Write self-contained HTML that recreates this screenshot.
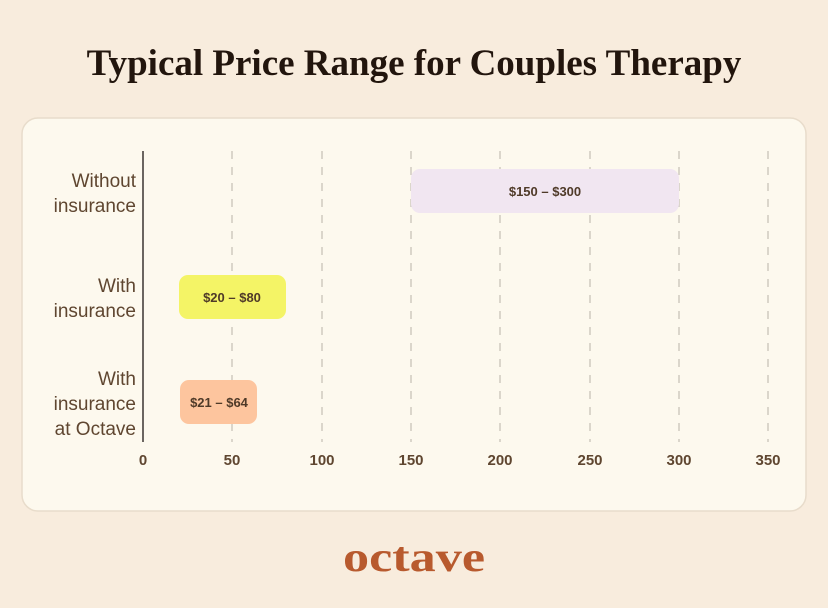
<!DOCTYPE html>
<html><head><style>
body{margin:0;width:828px;height:603px;background:#f8ecdd;overflow:hidden}
</style></head><body>
<svg width="828" height="603" xmlns="http://www.w3.org/2000/svg">
<rect width="828" height="603" fill="#f8ecdd"/>
<text x="414" y="75" text-anchor="middle" font-family="Liberation Serif, serif" font-weight="bold" font-size="37" fill="#22150d">Typical Price Range for Couples Therapy</text>
<rect x="22" y="118" width="784" height="393" rx="16" fill="#fdf9ee" stroke="#e8dccb" stroke-width="1.5"/>
<g stroke="#c9c2b8" stroke-width="1.3" stroke-dasharray="8,8">
<line x1="232" y1="151" x2="232" y2="442"/>
<line x1="322" y1="151" x2="322" y2="442"/>
<line x1="411" y1="151" x2="411" y2="442"/>
<line x1="500" y1="151" x2="500" y2="442"/>
<line x1="590" y1="151" x2="590" y2="442"/>
<line x1="679" y1="151" x2="679" y2="442"/>
<line x1="768" y1="151" x2="768" y2="442"/>
</g>
<line x1="143" y1="151" x2="143" y2="442" stroke="#6b6560" stroke-width="2"/>
<rect x="411" y="169" width="268" height="44" rx="9" fill="#f1e6f1"/>
<rect x="179" y="275" width="107" height="44" rx="9" fill="#f4f466"/>
<rect x="180" y="380" width="77" height="44" rx="9" fill="#fdc59e"/>
<g font-family="Liberation Sans, sans-serif" font-weight="bold" font-size="13" fill="#4f3a28" text-anchor="middle">
<text x="545" y="196">$150 – $300</text>
<text x="232" y="302">$20 – $80</text>
<text x="219" y="407">$21 – $64</text>
</g>
<g font-family="Liberation Sans, sans-serif" font-size="19" fill="#5f4630" text-anchor="end">
<text x="136" y="187">Without</text>
<text x="136" y="212">insurance</text>
<text x="136" y="292">With</text>
<text x="136" y="317">insurance</text>
<text x="136" y="385">With</text>
<text x="136" y="410">insurance</text>
<text x="136" y="435">at Octave</text>
</g>
<g font-family="Liberation Sans, sans-serif" font-weight="bold" font-size="15" fill="#5f4630" text-anchor="middle">
<text x="143" y="465">0</text>
<text x="232" y="465">50</text>
<text x="322" y="465">100</text>
<text x="411" y="465">150</text>
<text x="500" y="465">200</text>
<text x="590" y="465">250</text>
<text x="679" y="465">300</text>
<text x="768" y="465">350</text>
</g>
<text x="343" y="571" textLength="142" lengthAdjust="spacingAndGlyphs" font-family="Liberation Serif, serif" font-weight="bold" font-size="42" fill="#b85a2e">octave</text>
</svg>
</body></html>
